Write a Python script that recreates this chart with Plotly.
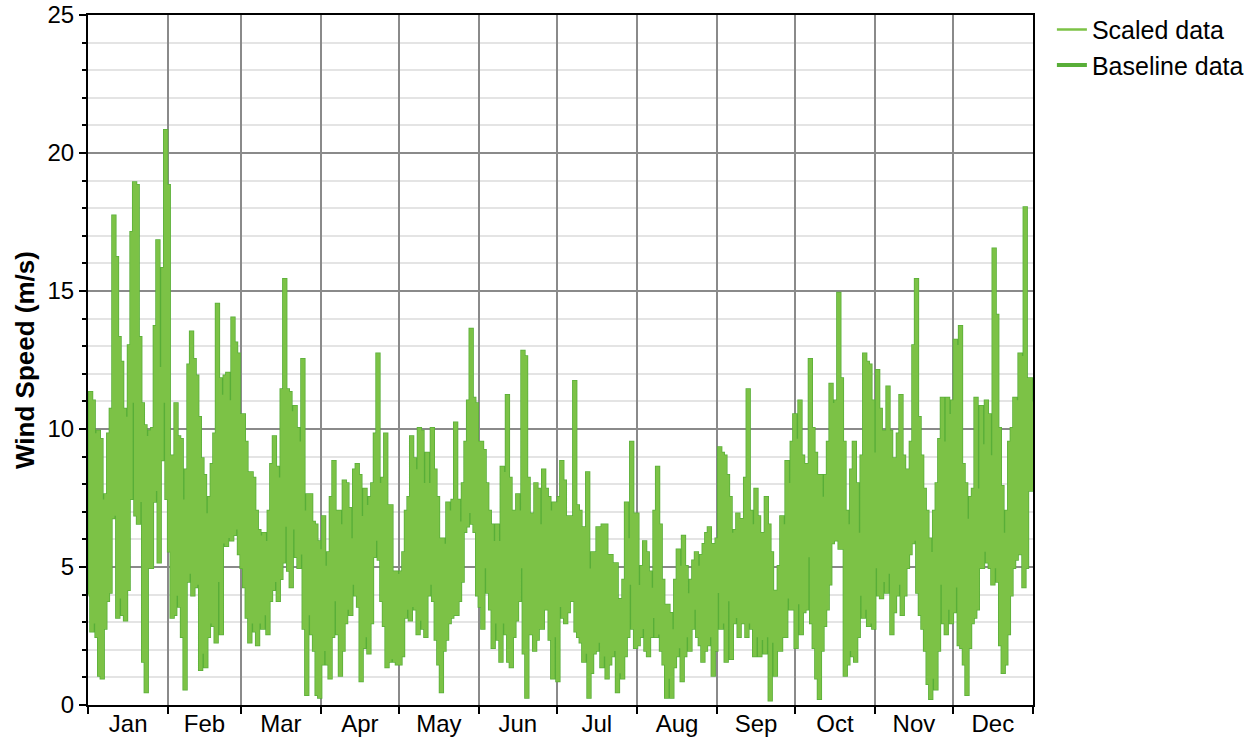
import pandas as pd
import plotly.graph_objects as go

# daily max / min wind speed (m/s)
jan_max = [11.3, 11.0, 9.8, 9.9, 9.6, 7.4, 7.6, 9.8, 10.7, 17.7, 16.2, 13.3, 12.4, 10.7, 10.4, 13.0,
           17.1, 18.9, 18.8, 13.3, 10.9, 10.1, 9.7, 9.9, 10.0, 13.7, 16.8, 12.2, 15.8, 20.8, 18.8]
jan_min = [4.0, 2.7, 3.0, 2.5, 1.1, 1.0, 2.8, 3.8, 4.1, 6.8, 6.9, 3.2, 3.9, 3.3, 3.1, 4.2,
           7.5, 11.0, 6.9, 6.6, 7.4, 1.6, 0.5, 5.0, 5.0, 7.4, 7.8, 5.2, 8.9, 11.0, 7.5]
feb_max = [9.0, 9.0, 10.9, 9.7, 9.6, 7.4, 8.5, 12.3, 13.5, 12.5, 11.9, 10.4, 8.9, 8.3,
           6.9, 7.5, 8.7, 9.8, 14.5, 11.8, 11.2, 11.9, 12.0, 11.0, 14.0, 13.1, 12.7, 10.5]
feb_min = [5.6, 3.2, 3.3, 4.0, 3.6, 2.5, 0.6, 4.5, 4.8, 4.0, 4.3, 4.4, 1.3, 1.9,
           1.4, 2.5, 3.0, 2.9, 2.3, 4.5, 2.6, 5.9, 5.8, 6.1, 6.0, 6.2, 6.4, 5.5]
mar_max = [10.5, 9.5, 8.4, 8.4, 8.2, 7.0, 6.3, 6.1, 6.2, 5.9, 7.0, 8.7, 9.7, 8.6, 8.2, 11.4,
           15.4, 11.4, 11.3, 10.6, 10.8, 10.0, 9.5, 12.5, 7.0, 7.6, 7.6, 6.6, 6.5, 5.9, 5.6]
mar_min = [5.0, 4.3, 3.2, 2.3, 3.0, 2.7, 2.2, 3.0, 2.8, 3.3, 2.6, 3.8, 4.2, 4.5, 3.8, 4.6,
           5.2, 6.5, 4.9, 4.3, 6.4, 5.4, 5.0, 5.5, 2.8, 0.4, 3.3, 2.6, 2.0, 0.4, 0.3]
apr_max = [6.8, 5.0, 5.5, 7.5, 8.8, 7.0, 7.0, 6.5, 8.1, 8.0, 7.1, 6.0, 8.5, 8.7, 8.3,
           6.8, 7.8, 7.2, 7.5, 8.0, 9.8, 12.7, 8.0, 8.2, 9.8, 7.2, 7.2, 4.8, 4.8, 4.7]
apr_min = [1.5, 2.0, 1.5, 1.0, 2.5, 3.8, 2.6, 1.1, 2.0, 3.0, 3.5, 3.3, 4.4, 4.0, 3.6,
           0.9, 2.1, 2.5, 1.9, 3.0, 5.4, 6.0, 5.3, 3.8, 2.9, 1.4, 1.6, 1.7, 1.6, 1.5]
may_max = [4.8, 5.5, 7.0, 7.5, 9.7, 8.9, 8.5, 10.0, 9.9, 8.0, 9.1, 8.0, 10.0, 8.5, 7.5, 6.0,
           6.0, 5.8, 7.3, 7.0, 7.4, 10.2, 7.4, 6.6, 8.0, 9.5, 11.0, 13.6, 11.1, 10.9, 9.5]
may_min = [1.5, 1.8, 3.2, 3.5, 3.1, 3.6, 3.5, 2.6, 3.1, 2.8, 2.5, 4.0, 4.4, 3.8, 2.4, 1.5,
           0.5, 2.0, 2.4, 3.0, 3.2, 3.3, 3.3, 3.8, 4.5, 6.3, 6.5, 7.0, 6.6, 6.3, 4.0]
jun_max = [9.5, 9.2, 8.0, 7.0, 6.5, 5.9, 6.5, 5.9, 8.6, 8.4, 11.2, 8.2, 7.0, 7.0, 7.6,
           7.0, 12.8, 12.6, 8.2, 6.9, 6.9, 8.0, 7.8, 6.5, 8.5, 7.8, 7.5, 7.0, 7.3, 7.3]
jun_min = [3.6, 2.8, 5.0, 4.1, 3.5, 2.1, 3.0, 2.4, 1.6, 3.0, 2.6, 1.6, 1.4, 2.5, 3.1,
           3.8, 5.0, 1.9, 0.3, 2.6, 2.6, 2.0, 2.4, 2.8, 2.8, 3.5, 3.5, 2.4, 1.0, 2.5]
jul_max = [7.5, 8.8, 8.1, 6.8, 6.8, 6.8, 11.7, 7.2, 7.0, 6.4, 6.4, 8.4, 4.9, 5.5, 5.5, 6.4,
           6.4, 6.5, 6.5, 5.4, 5.4, 5.1, 5.1, 3.8, 3.8, 4.5, 7.3, 6.0, 9.5, 6.9, 6.9]
jul_min = [0.9, 3.6, 3.2, 3.0, 3.4, 3.8, 3.8, 2.7, 2.5, 2.3, 1.6, 1.9, 0.3, 1.2, 1.9, 2.0,
           2.3, 1.4, 1.8, 1.0, 1.5, 1.8, 2.0, 0.5, 1.2, 1.0, 1.8, 2.5, 4.4, 2.8, 2.1]
aug_max = [4.3, 5.0, 5.9, 5.5, 4.8, 4.2, 7.0, 8.6, 6.5, 4.5, 3.6, 3.6, 3.3, 2.7, 4.5, 5.6,
           5.0, 6.1, 5.0, 4.0, 4.5, 5.2, 5.5, 5.0, 5.4, 5.8, 6.2, 6.4, 5.8, 5.8, 6.0]
aug_min = [2.2, 2.5, 2.8, 2.0, 1.8, 2.5, 3.2, 2.5, 2.6, 2.0, 1.5, 0.3, 1.0, 0.3, 1.4, 1.8,
           2.1, 0.9, 1.8, 2.5, 2.0, 2.8, 3.5, 2.5, 2.2, 1.6, 2.0, 2.2, 2.5, 1.1, 2.0]
sep_max = [9.3, 9.1, 9.0, 8.3, 7.5, 6.2, 6.3, 6.9, 6.7, 6.7, 8.2, 11.4, 7.0, 6.5, 7.8,
           6.8, 6.2, 6.2, 7.5, 6.5, 5.5, 4.1, 4.1, 5.0, 6.8, 6.5, 8.8, 8.0, 9.5, 10.5]
sep_min = [4.1, 2.8, 3.0, 1.6, 3.8, 1.7, 3.0, 3.2, 2.5, 3.0, 3.0, 2.5, 3.0, 2.8, 1.8,
           2.5, 1.8, 2.4, 1.9, 2.5, 0.2, 2.3, 1.1, 2.0, 2.0, 2.5, 2.5, 3.9, 3.5, 3.5]
oct_max = [9.6, 11.0, 9.0, 8.7, 8.7, 12.5, 10.0, 9.1, 8.3, 8.3, 7.5, 8.3, 9.5, 11.6, 10.9, 11.0,
           14.9, 11.8, 9.5, 7.0, 6.5, 8.5, 9.5, 8.0, 6.2, 9.0, 12.7, 12.4, 12.3, 11.0, 9.1]
oct_min = [2.1, 3.7, 2.6, 3.4, 3.5, 5.4, 3.0, 2.1, 1.0, 0.25, 2.0, 2.9, 3.5, 4.4, 5.9, 6.0,
           6.0, 5.7, 5.7, 1.1, 1.5, 2.0, 1.8, 1.6, 2.5, 4.0, 3.2, 3.5, 2.9, 3.0, 2.8]
nov_max = [12.1, 10.7, 9.9, 9.9, 11.5, 9.9, 8.9, 8.9, 9.8, 11.2, 9.0, 8.5, 8.5, 9.5, 13.0,
           15.4, 10.4, 9.0, 7.8, 7.0, 6.0, 5.5, 7.0, 8.0, 9.6, 11.1, 9.5, 11.1, 10.5, 11.0]
nov_min = [5.0, 4.0, 3.9, 4.5, 4.1, 4.8, 2.6, 3.4, 4.0, 4.4, 3.3, 4.0, 5.0, 5.5, 5.9,
           6.0, 4.1, 3.3, 2.8, 2.0, 0.8, 0.25, 1.0, 0.6, 2.0, 4.4, 3.0, 2.6, 3.5, 3.0]
dec_max = [13.2, 13.0, 13.7, 8.7, 8.0, 6.7, 7.5, 7.8, 11.1, 7.8, 10.8, 9.4, 11.0, 10.5, 9.0, 16.5,
           14.1, 10.0, 7.9, 6.2, 7.0, 9.5, 10.0, 11.1, 11.0, 12.7, 12.6, 18.0, 11.8, 11.8, 11.0]
dec_min = [3.4, 4.3, 2.2, 2.1, 1.5, 0.4, 2.1, 3.0, 3.2, 3.5, 5.0, 5.0, 5.6, 5.2, 5.0, 4.4,
           5.0, 4.5, 2.2, 1.2, 1.5, 2.6, 4.0, 5.0, 5.3, 5.5, 5.5, 4.3, 5.0, 7.8, 7.8]

daily_max = (jan_max + feb_max + mar_max + apr_max + may_max + jun_max
             + jul_max + aug_max + sep_max + oct_max + nov_max + dec_max)
daily_min = (jan_min + feb_min + mar_min + apr_min + may_min + jun_min
             + jul_min + aug_min + sep_min + oct_min + nov_min + dec_min)

days = pd.date_range("2019-01-01", periods=len(daily_max), freq="D")

# each day: the low in the morning, the high in the evening
times, speed = [], []
for d, lo, hi in zip(days, daily_min, daily_max):
    times += [d + pd.Timedelta(hours=6), d + pd.Timedelta(hours=18)]
    speed += [lo, hi]

BASE_GREEN = "#58ae38"
SCALED_GREEN = "#7cc246"
FONT = "Liberation Sans, Arial, sans-serif"

fig = go.Figure()

fig.add_trace(go.Scatter(
    x=times, y=speed, mode="lines", name="Baseline data",
    line=dict(color=BASE_GREEN, width=4, shape="hv"),
    legendrank=2,
))
fig.add_trace(go.Scatter(
    x=times, y=speed, mode="lines", name="Scaled data",
    line=dict(color=SCALED_GREEN, width=2.5, shape="hv"),
    legendrank=1,
))

fig.update_layout(
    width=1255,
    height=745,
    paper_bgcolor="white",
    plot_bgcolor="white",
    font=dict(family=FONT, size=24, color="black"),
    margin=dict(l=88, r=222, t=15, b=40, autoexpand=False),
    showlegend=True,
    legend=dict(
        x=1.02, xanchor="left",
        y=1.012, yanchor="top",
        font=dict(size=25),
        bgcolor="rgba(0,0,0,0)",
        itemwidth=30,
        tracegroupgap=0,
    ),
)

fig.update_xaxes(
    type="date",
    range=["2019-01-01", "2020-01-01"],
    tick0="2019-01-01",
    dtick="M1",
    tickformat="%b",
    ticklabelmode="period",
    ticklabelstandoff=-11,
    ticks="outside",
    ticklen=7,
    tickwidth=2,
    tickcolor="black",
    showgrid=True,
    gridcolor="#8a8a8a",
    gridwidth=1.5,
    showline=True,
    linecolor="black",
    linewidth=2,
    mirror=True,
    zeroline=False,
    automargin=False,
    ticklabeloverflow="allow",
)

fig.update_yaxes(
    range=[0, 25],
    dtick=5,
    ticks="outside",
    ticklen=7,
    tickwidth=2,
    tickcolor="black",
    showgrid=True,
    gridcolor="#8a8a8a",
    gridwidth=1.5,
    minor=dict(dtick=1, showgrid=True, gridcolor="#e4e4e4", gridwidth=1.5,
               ticks="outside", ticklen=4, tickcolor="black", tickwidth=2),
    showline=True,
    linecolor="black",
    linewidth=2,
    mirror=True,
    zeroline=False,
    automargin=False,
    ticklabeloverflow="allow",
    title=dict(text="<b>Wind Speed (m/s)</b>", font=dict(size=26), standoff=5),
)

# drop the default 8px page margin so the figure sits flush with the window
fig.write_html(
    "out.html",
    config={"displayModeBar": False},
    post_script="document.body.style.margin='0';",
)
